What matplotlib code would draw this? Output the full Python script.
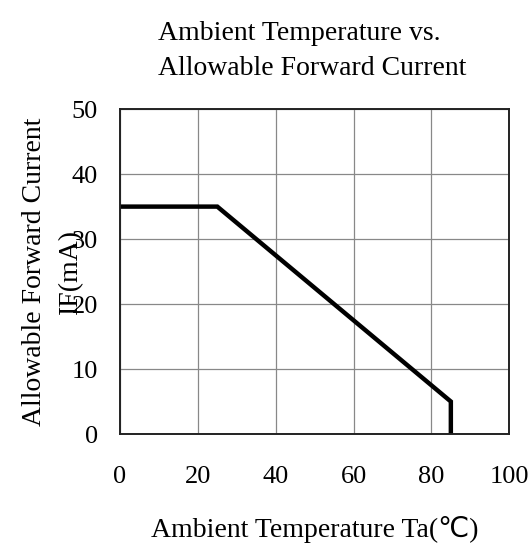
import matplotlib.pyplot as plt

# derating curve
temp = [0, 25, 85, 85]
current = [35, 35, 5, 0]

x_ticks = [0, 20, 40, 60, 80, 100]
y_ticks = [0, 10, 20, 30, 40, 50]

plt.rcParams['font.family'] = ['Liberation Serif', 'DejaVu Sans']

fig = plt.figure(figsize=(5.31, 5.43), dpi=100)
ax = fig.add_axes([0.226, 0.2007, 0.733, 0.5983])

ax.plot(temp, current, color='black', linewidth=3.2, solid_joinstyle='miter')

ax.set_xlim(0, 100)
ax.set_ylim(0, 50)
ax.set_xticks(x_ticks)
ax.set_yticks(y_ticks)
ax.tick_params(length=0, labelsize=19)
ax.tick_params(axis='x', pad=23)
ax.tick_params(axis='y', pad=16)
ax.grid(True, color='#888888', linewidth=0.9)
ax.set_axisbelow(True)
for s in ax.spines.values():
    s.set_linewidth(1.4)
    s.set_color('#222222')

fig.text(0.2976, 0.906, 'Ambient Temperature vs.\nAllowable Forward Current',
         ha='left', va='center', fontsize=20, linespacing=1.5)
ax.set_xlabel('Ambient Temperature Ta(℃)', fontsize=20)
ax.xaxis.set_label_coords(0.5, -0.252)
ax.set_ylabel('Allowable Forward Current\nIF(mA)', fontsize=20, linespacing=1.6)
ax.yaxis.set_label_coords(-0.095, 0.5)

fig.savefig('out.png', dpi=100)
